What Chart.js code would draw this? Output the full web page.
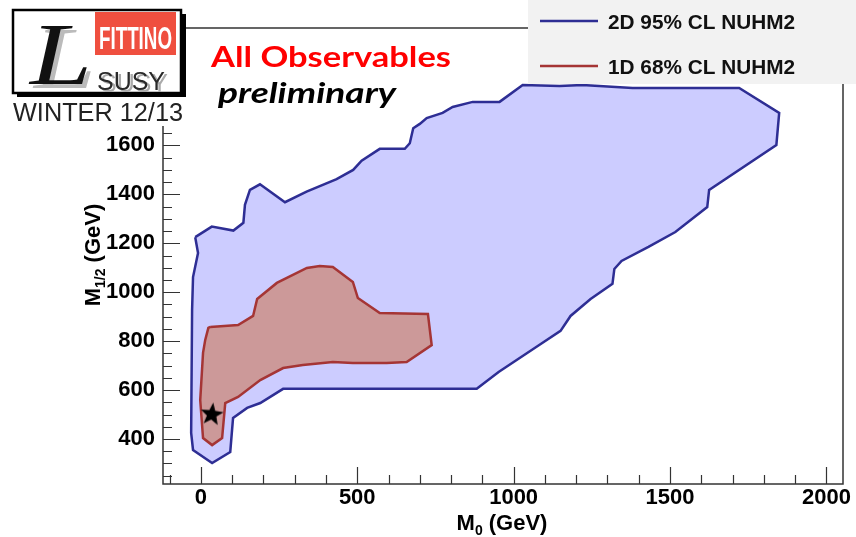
<!DOCTYPE html>
<html>
<head>
<meta charset="utf-8">
<script src="https://cdn.jsdelivr.net/npm/chart.js@4.4.0/dist/chart.umd.min.js"></script>
<style>
  html, body { margin: 0; padding: 0; background: #fff; }
  #wrap { width: 856px; height: 537px; position: relative; }
</style>
</head>
<body>
<div id="wrap"><canvas id="chart" width="856" height="537"></canvas></div>
<script>
// 2D 95% CL NUHM2 contour, M0 / M1/2 in GeV (traced round the outline)
const cl95M0 = [-18, 35, 104, 136, 141, 157, 189, 269, 338, 434, 487, 514, 572, 652, 668, 679, 700, 722, 773, 805, 869, 955,
  1029, 1147, 1220, 1380, 1530, 1721, 1849, 1840, 1625, 1619, 1517, 1431, 1345, 1322, 1316, 1246, 1182, 1150, 1077, 952,
  882, 263, 190, 148, 103, 94, 36, -25, -31, -28, -25, -9];
const cl95M12 = [1225, 1268, 1252, 1284, 1357, 1418, 1441, 1368, 1411, 1462, 1500, 1538, 1586, 1586, 1609, 1670, 1688, 1712, 1733, 1757, 1778, 1778,
  1847, 1843, 1847, 1835, 1835, 1835, 1733, 1602, 1418, 1348, 1246, 1185, 1128, 1095, 1034, 972, 903, 842, 780, 674,
  605, 605, 547, 527, 486, 347, 302, 355, 425, 927, 1062, 1160];

// 1D 68% CL NUHM2 contour
const cl68M0 = [30, 119, 167, 180, 243, 339, 380, 422, 486, 502, 572, 726, 738, 658, 594, 486, 422, 326, 263, 190, 119, 78,
  68, 36, 7, -2, 7, 14, 24];
const cl68M12 = [858, 866, 903, 972, 1038, 1099, 1107, 1103, 1042, 976, 915, 911, 784, 715, 711, 711, 715, 702, 690, 641, 572, 547,
  404, 375, 404, 559, 752, 805, 854];

// best fit point
const bestM0 = [35];
const bestM12 = [500];

const m0Ticks = [0, 500, 1000, 1500, 2000];
const m12Ticks = [400, 600, 800, 1000, 1200, 1400, 1600];

const BLUE_LINE = '#2e2e94';
const BLUE_FILL = '#ccccff';
const RED_LINE = '#a53535';
const RED_FILL = '#cc9999';

function closedPoints(xs, ys) {
  const pts = xs.map((x, i) => ({ x: x, y: ys[i] }));
  pts.push({ x: xs[0], y: ys[0] });
  return pts;
}

function starImage(r) {
  const c = document.createElement('canvas');
  c.width = c.height = 2 * r + 2;
  const g = c.getContext('2d');
  g.translate(r + 1, r + 1);
  g.rotate(0.12);
  g.beginPath();
  for (let i = 0; i < 10; i++) {
    const rad = i % 2 ? r * 0.42 : r;
    const a = -Math.PI / 2 + i * Math.PI / 5;
    g.lineTo(rad * Math.cos(a), rad * Math.sin(a));
  }
  g.closePath();
  g.fillStyle = '#000';
  g.fill();
  return c;
}

// draws text squeezed / stretched to a given width
function fitText(ctx, text, left, baseline, width) {
  const w = ctx.measureText(text).width;
  ctx.save();
  ctx.translate(left, baseline);
  ctx.scale(width / w, 1);
  ctx.textAlign = 'left';
  ctx.textBaseline = 'alphabetic';
  ctx.fillText(text, 0, 0);
  ctx.restore();
}

const decor = {
  id: 'decor',
  afterDraw(chart) {
    const { ctx, chartArea: a, scales } = chart;
    const x = scales.x, y = scales.y;
    ctx.save();

    // frame
    ctx.strokeStyle = '#333';
    ctx.lineWidth = 1.5;
    ctx.strokeRect(a.left, a.top, a.right - a.left, a.bottom - a.top);

    // inward ticks, ROOT style
    ctx.lineWidth = 1.2;
    ctx.beginPath();
    for (let v = -100; v <= 2000; v += 100) {
      const px = Math.round(x.getPixelForValue(v)) + 0.5;
      const len = v % 500 === 0 ? 17 : 9;
      ctx.moveTo(px, a.bottom);
      ctx.lineTo(px, a.bottom - len);
    }
    for (let v = 250; v <= 2050; v += 50) {
      const py = Math.round(y.getPixelForValue(v)) + 0.5;
      const len = v % 200 === 0 ? 17 : 9;
      ctx.moveTo(a.left, py);
      ctx.lineTo(a.left + len, py);
    }
    ctx.stroke();

    // axis titles
    ctx.fillStyle = '#000';
    ctx.textBaseline = 'alphabetic';
    ctx.textAlign = 'left';
    const big = 'bold 22px "Liberation Sans", Arial, sans-serif';
    const sub = 'bold 14px "Liberation Sans", Arial, sans-serif';
    ctx.font = big;
    const wM = ctx.measureText('M').width;
    const wRest = ctx.measureText(' (GeV)').width;
    ctx.font = sub;
    const w0 = ctx.measureText('0').width;
    let x0 = 502 - (wM + w0 + wRest) / 2;
    ctx.font = big; ctx.fillText('M', x0, 530);
    ctx.font = sub; ctx.fillText('0', x0 + wM, 535);
    ctx.font = big; ctx.fillText(' (GeV)', x0 + wM + w0, 530);

    ctx.save();
    ctx.translate(100, 255);
    ctx.rotate(-Math.PI / 2);
    ctx.font = big;
    const wRest2 = ctx.measureText(' (GeV)').width;
    ctx.font = sub;
    const w12 = ctx.measureText('1/2').width;
    let y0 = -(wM + w12 + wRest2) / 2;
    ctx.font = big; ctx.fillText('M', y0, 0);
    ctx.font = sub; ctx.fillText('1/2', y0 + wM, 5);
    ctx.font = big; ctx.fillText(' (GeV)', y0 + wM + w12, 0);
    ctx.restore();

    // legend box
    ctx.fillStyle = '#f2f2f2';
    ctx.fillRect(528, 0, 328, 84);
    const ds = chart.data.datasets;
    const rows = [{ d: ds[2], y: 21 }, { d: ds[1], y: 66 }];
    ctx.font = 'bold 20px "Liberation Sans", Arial, sans-serif';
    ctx.textBaseline = 'middle';
    for (const r of rows) {
      ctx.strokeStyle = r.d.borderColor;
      ctx.lineWidth = 2.5;
      ctx.beginPath();
      ctx.moveTo(540, r.y);
      ctx.lineTo(598, r.y);
      ctx.stroke();
      ctx.fillStyle = '#111';
      ctx.textBaseline = 'alphabetic';
      fitText(ctx, r.d.label, 608, r.y + 8, 187);
    }

    // logo
    ctx.fillStyle = '#fff';
    ctx.fillRect(0, 0, 186, 126);
    ctx.fillStyle = '#000';
    ctx.fillRect(181, 14, 5, 83);
    ctx.fillRect(17, 93, 169, 4);
    ctx.strokeStyle = '#000';
    ctx.lineWidth = 2.5;
    ctx.fillStyle = '#fff';
    ctx.fillRect(13, 10, 168, 83);
    ctx.strokeRect(13, 10, 168, 83);
    ctx.fillStyle = '#ef4f3f';
    ctx.fillRect(95, 12, 81, 43);
    ctx.fillStyle = '#fff';
    ctx.font = 'bold 32px "Liberation Sans Narrow", "Liberation Sans", sans-serif';
    fitText(ctx, 'FITTINO', 99, 49, 73);
    ctx.font = '26px "Liberation Sans", Arial, sans-serif';
    ctx.fillStyle = '#aaa';
    fitText(ctx, 'SUSY', 100, 92, 68);
    ctx.fillStyle = '#2a2a2a';
    fitText(ctx, 'SUSY', 97, 90, 68);
    ctx.font = 'italic 88px "Liberation Serif", "DejaVu Serif", serif';
    ctx.fillStyle = '#bbb';
    fitText(ctx, 'L', 34, 88, 62);
    ctx.fillStyle = '#111';
    fitText(ctx, 'L', 30, 84, 62);
    ctx.fillStyle = '#222';
    ctx.font = '25px "Liberation Sans", Arial, sans-serif';
    fitText(ctx, 'WINTER 12/13', 13, 121, 170);

    // headline
    ctx.fillStyle = '#ff0000';
    ctx.font = 'bold 28px Lato, "Open Sans", sans-serif';
    fitText(ctx, 'All Observables', 211, 67, 240);
    ctx.fillStyle = '#000';
    ctx.font = 'italic bold 28px Lato, "Open Sans", sans-serif';
    fitText(ctx, 'preliminary', 218, 103, 178);

    ctx.restore();
  }
};

new Chart(document.getElementById('chart'), {
  type: 'scatter',
  data: {
    datasets: [
      {
        label: 'best fit',
        data: bestM0.map((v, i) => ({ x: v, y: bestM12[i] })),
        pointStyle: starImage(12),
        pointRadius: 12,
        showLine: false
      },
      {
        label: '1D 68% CL NUHM2',
        data: closedPoints(cl68M0, cl68M12),
        showLine: true,
        fill: 'shape',
        borderColor: RED_LINE,
        backgroundColor: RED_FILL,
        borderWidth: 2.5,
        pointRadius: 0,
        tension: 0
      },
      {
        label: '2D 95% CL NUHM2',
        data: closedPoints(cl95M0, cl95M12),
        showLine: true,
        fill: 'shape',
        borderColor: BLUE_LINE,
        backgroundColor: BLUE_FILL,
        borderWidth: 2.5,
        pointRadius: 0,
        tension: 0
      }
    ]
  },
  options: {
    responsive: false,
    animation: false,
    events: [],
    layout: { padding: { top: 28, right: 12, left: 0, bottom: 0 } },
    plugins: { legend: { display: false }, tooltip: { enabled: false } },
    scales: {
      x: {
        type: 'linear',
        min: -121,
        max: 2053,
        grid: { display: false, drawTicks: false },
        border: { display: false },
        afterBuildTicks: s => { s.ticks = m0Ticks.map(v => ({ value: v })); },
        afterFit: s => { s.height = 53; },
        ticks: {
          padding: 1,
          maxRotation: 0,
          color: '#000',
          callback: v => String(v),
          font: { family: '"Liberation Sans", Arial, sans-serif', weight: 'bold', size: 22 }
        }
      },
      y: {
        type: 'linear',
        min: 216,
        max: 2080,
        grid: { display: false, drawTicks: false },
        border: { display: false },
        afterBuildTicks: s => { s.ticks = m12Ticks.map(v => ({ value: v })); },
        afterFit: s => { s.width = 163; },
        ticks: {
          padding: 8,
          color: '#000',
          callback: v => String(v),
          font: { family: '"Liberation Sans", Arial, sans-serif', weight: 'bold', size: 22 }
        }
      }
    }
  },
  plugins: [decor]
});
</script>
</body>
</html>
